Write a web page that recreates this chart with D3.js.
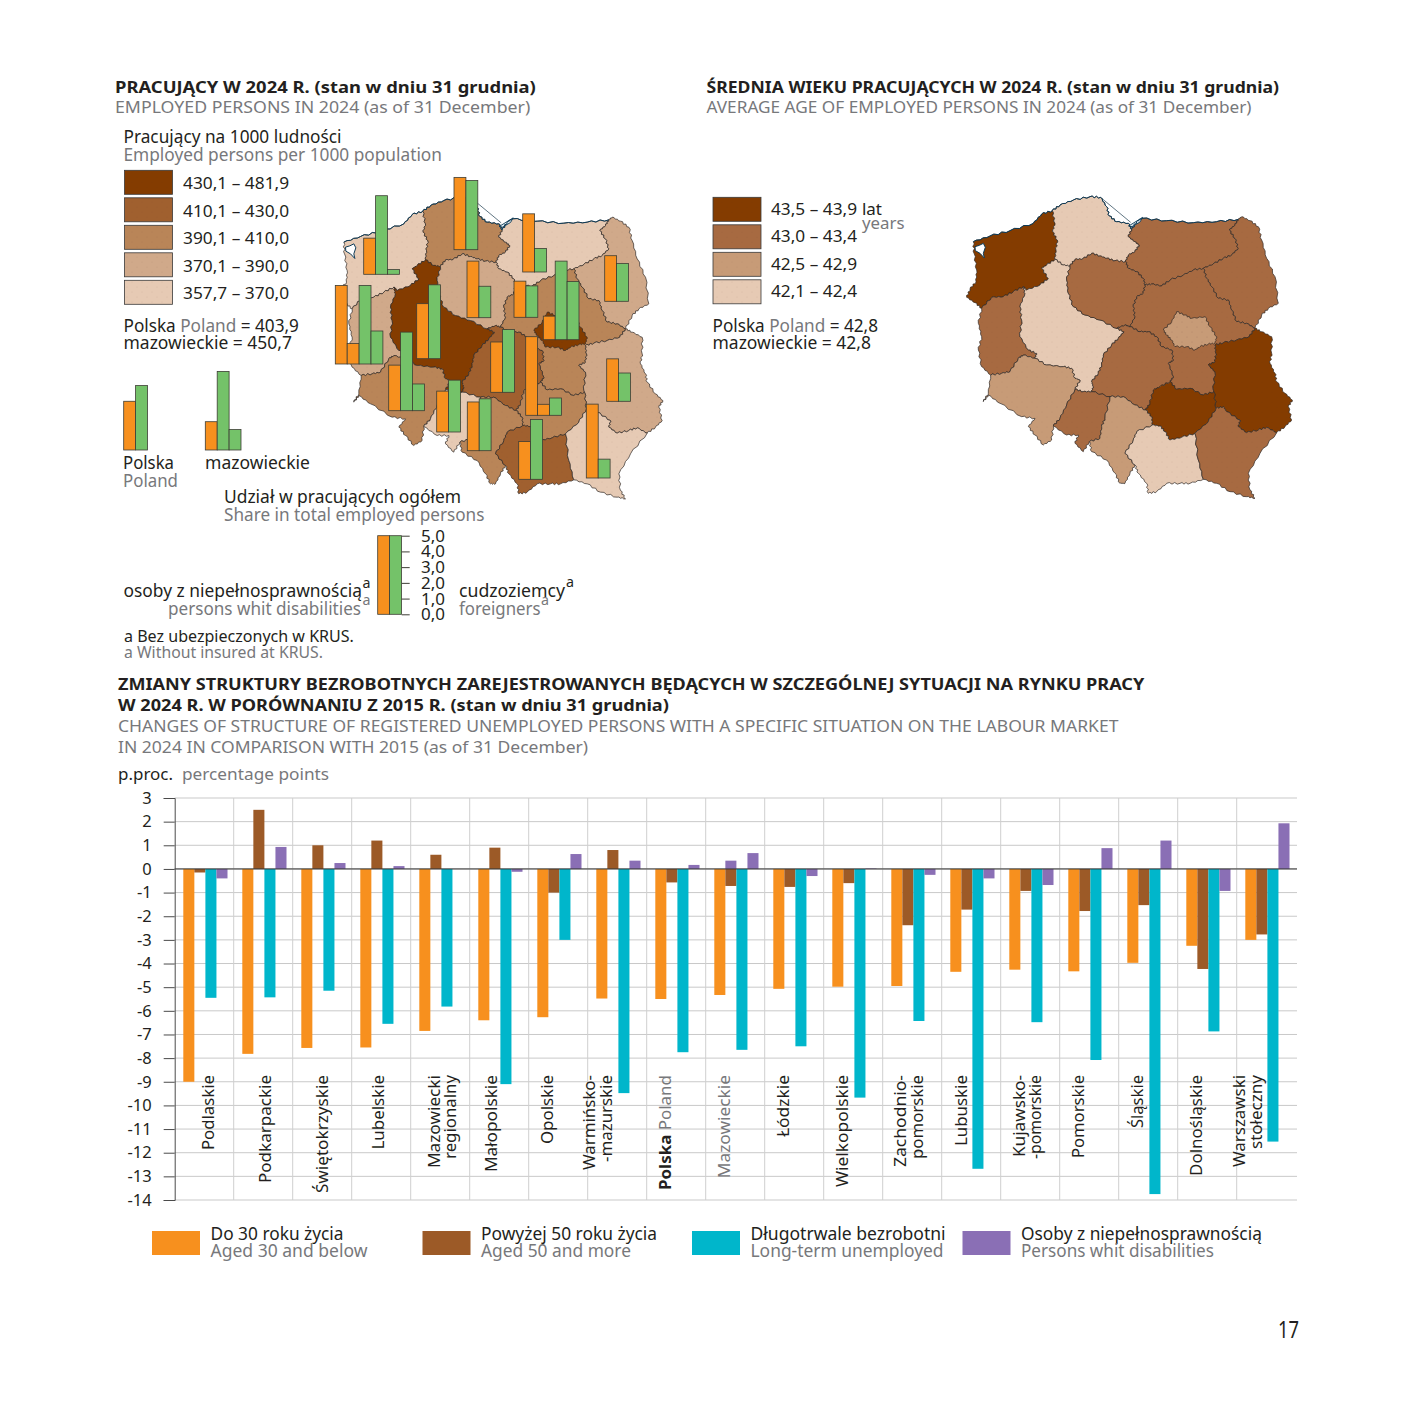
<!DOCTYPE html>
<html><head><meta charset="utf-8">
<script src="https://cdn.jsdelivr.net/npm/d3@7"></script>
<style>html,body{margin:0;background:#fff}svg{display:block}text{font-family:"Noto Sans",Lato,sans-serif}</style>
</head><body><svg id="c" width="1418" height="1418"></svg>
<script>
// ---------- DATA ----------
const categories=["Podlaskie","Podkarpackie","Świętokrzyskie","Lubelskie","Mazowiecki regionalny","Małopolskie","Opolskie","Warmińsko-mazurskie","Polska","Mazowieckie","Łódzkie","Wielkopolskie","Zachodniopomorskie","Lubuskie","Kujawsko-pomorskie","Pomorskie","Śląskie","Dolnośląskie","Warszawski stołeczny"];
const aged30=[-9.0,-7.82,-7.57,-7.55,-6.85,-6.4,-6.27,-5.48,-5.5,-5.33,-5.07,-4.98,-4.95,-4.35,-4.26,-4.33,-3.97,-3.25,-3.0];
const aged50=[-0.15,2.5,1.0,1.2,0.6,0.9,-1.0,0.8,-0.57,-0.72,-0.76,-0.6,-2.38,-1.72,-0.93,-1.78,-1.53,-4.23,-2.77];
const longTerm=[-5.45,-5.43,-5.15,-6.55,-5.82,-9.1,-3.0,-9.48,-7.75,-7.65,-7.5,-9.67,-6.43,-12.68,-6.48,-8.08,-13.75,-6.87,-11.53];
const disabled=[-0.4,0.93,0.25,0.12,0,-0.12,0.63,0.35,0.17,0.67,-0.3,0.02,-0.25,-0.4,-0.68,0.88,1.2,-0.93,1.93];
const yTicks=d3.range(-14,4);
const seriesNames=["Do 30 roku życia","Powyżej 50 roku życia","Długotrwale bezrobotni","Osoby z niepełnosprawnością"];
const seriesNamesEn=["Aged 30 and below","Aged 50 and more","Long-term unemployed","Persons whit disabilities"];
const seriesColors=["#f7901e","#9c5a27","#00b6cb","#8a6fb5"];
const catLabels=[["Podlaskie"],["Podkarpackie"],["Świętokrzyskie"],["Lubelskie"],["Mazowiecki","regionalny"],["Małopolskie"],["Opolskie"],["Warmińsko-","-mazurskie"],["Polska Poland"],["Mazowieckie"],["Łódzkie"],["Wielkopolskie"],["Zachodnio-","pomorskie"],["Lubuskie"],["Kujawsko-","-pomorskie"],["Pomorskie"],["Śląskie"],["Dolnośląskie"],["Warszawski","stołeczny"]];

const regions=["Zachodniopomorskie","Pomorskie","Warmińsko-mazurskie","Podlaskie","Lubuskie","Wielkopolskie","Kujawsko-pomorskie","Mazowiecki regionalny","Warszawski stołeczny","Łódzkie","Lubelskie","Świętokrzyskie","Dolnośląskie","Opolskie","Śląskie","Małopolskie","Podkarpackie"];
const employedClass=[4,2,4,3,3,0,3,2,0,1,3,2,2,4,2,1,4];
const ageClass=[0,3,1,1,1,3,1,1,2,1,0,0,2,1,2,3,1];
const shareDisabled=[2.3,4.6,3.7,2.9,6.3,3.5,3.6,2.3,1.5,3.2,2.7,5.7,2.9,2.6,3.1,2.4,4.7];
const shareForeign=[5.3,4.4,1.5,2.4,7.1,4.7,2.0,2.0,8.7,4.0,1.8,1.1,6.7,3.3,3.3,3.8,1.2];
const employedRanges=["430,1 – 481,9","410,1 – 430,0","390,1 – 410,0","370,1 – 390,0","357,7 – 370,0"];
const employedColors=["#843c00","#a0602f","#b98558","#d0a98a","#e6cab4"];
const ageRanges=["43,5 – 43,9","43,0 – 43,4","42,5 – 42,9","42,1 – 42,4"];
const ageColors=["#843c00","#a76a41","#c79b77","#e6cab4"];
const shareTicks=[0,1,2,3,4,5];
const refDisabled=[3.1,1.8], refForeign=[4.1,6.3];

// Map outline, in map units, as shared borders
const borders={
zCoast:"65,355 45,338 20,322 30,297 48,275 50,240 42,190 40,155 90,138 150,122 220,100 245,72 277,62",
pomCoast:"277,62 300,45 340,30 390,20 422,22 440,50 448,78 470,95 505,100 515,118",
zPom:"277,62 285,100 278,125 292,150 288,180 285,208",
pomKuj:"330,228 345,208 368,207 395,190 420,198 440,205 465,212 497,215",
pomWiel:"285,208 310,225 330,228",
pomWM:"515,118 505,140 525,155 538,165 525,185 505,195 497,215",
wmCoast:"515,118 530,95 545,85 620,92 700,98 770,95 835,88",
wmPodl:"835,88 825,105 808,120 825,145 835,175 815,195 790,205 760,222 730,235",
wmMaz:"730,235 700,240 670,255 630,270 605,288 575,282 555,285",
wmKuj:"497,215 505,235 530,245 550,265 555,285",
podlOuter:"835,88 845,80 870,92 895,110 905,150 920,205 945,260 955,340 925,355 905,375 885,415",
podlMaz:"730,235 740,265 755,290 775,325 805,330 815,360 830,395 860,400 885,415",
kujMaz:"555,285 550,310 530,320 520,350 525,380 510,410",
kujWiel:"330,228 320,270 325,310 340,350 375,375 420,390 470,415",
kujLodz:"510,410 495,405 470,415",
mazLodz:"510,410 540,425 565,425 590,440 605,470 635,480 640,510 625,520 640,560 630,575",
mazSwie:"630,575 650,598 690,595 730,615 762,605",
mazLub:"885,415 868,440 830,450 790,458 765,465 768,490 765,515 745,525 765,545 760,600 762,605",
lubSwie:"762,605 768,655",
lubOuter:"885,415 905,425 935,440 935,490 930,520 945,550 950,575 975,610 997,630 985,650 995,690 975,710 950,728",
lubPodk:"768,655 790,650 800,665 840,690 835,710 860,728 895,720 920,712 950,728",
podkOuter:"950,728 900,790 865,850 870,900 885,925 860,920 810,905 770,880 730,868",
swiePodk:"768,655 745,695 705,730",
swieMalo:"705,730 665,742 630,750 615,725 600,708 577,705",
maloPodk:"705,730 715,810 730,868",
swieLodz:"630,575 600,590 580,600 570,640 557,660",
swieSl:"557,660 575,680 577,705",
maloSl:"577,705 530,725 520,750 495,790 525,825",
maloOuter:"525,825 535,850 560,880 565,910 590,905 620,880 660,880 690,880 730,868",
slOuter:"525,825 510,850 495,880 480,880 465,850 440,810 395,785 388,755",
slOp:"388,755 420,745 425,710 435,685 450,620",
slLodz:"450,620 490,620 525,645 557,660",
opLodz:"395,605 450,620",
opWiel:"345,598 370,605 395,605",
opOuter:"388,755 370,785 345,760 355,735 320,735 280,708",
opDol:"280,708 300,685 320,645 345,598",
dolOuter:"280,708 275,750 250,765 225,735 205,710 225,685 185,680 120,640 85,615 70,635 85,610 92,555",
lubDol:"92,555 125,550 150,545 175,505 190,495 225,505",
dolWiel:"225,505 260,525 310,530 335,535 345,565 360,570 345,598",
lubWiel:"190,290 195,310 180,350 185,390 180,440 205,480 230,490 225,505",
lubOuterW:"65,355 55,400 65,440 55,480 65,530 92,555",
lubZach:"65,355 95,322 130,320 160,305 190,290",
zachWiel:"190,290 200,300 240,285 265,265 245,235 260,225 285,208",
wielLodz:"470,415 492,425 475,445 455,465 430,495 425,525 415,550 395,575 400,590 395,605",
warsaw:"610,420 635,395 650,365 675,375 695,385 735,380 750,410 770,440 765,460 745,462 720,470 705,480 680,470 645,470 635,450 620,435 610,420"
};
const regionRings=[
"zCoast zPom -zachWiel -lubZach",
"pomCoast pomWM -pomKuj -pomWiel -zPom",
"wmCoast wmPodl wmMaz -wmKuj -pomWM",
"podlOuter -podlMaz -wmPodl",
"-lubOuterW lubZach lubWiel -lubDol",
"pomWiel kujWiel wielLodz -opWiel -dolWiel -lubWiel zachWiel",
"pomKuj wmKuj kujMaz kujLodz -kujWiel",
"-wmMaz podlMaz mazLub -mazSwie -mazLodz -kujMaz",
"warsaw",
"-kujLodz mazLodz swieLodz -slLodz -opLodz -wielLodz",
"lubOuter -lubPodk -lubSwie -mazLub",
"mazSwie lubSwie swiePodk swieMalo -swieSl -swieLodz",
"lubDol dolWiel -opDol dolOuter",
"opWiel opLodz -slOp opOuter opDol",
"slLodz swieSl maloSl slOuter slOp",
"-swieMalo maloPodk -maloOuter -maloSl",
"-swiePodk lubPodk podkOuter -maloPodk"];
const lagoon=[[45,170],[58,166],[70,160],[76,172],[70,190],[73,204],[60,190],[46,182],[45,170]];
const helSpit=[[424,24],[512,97]];
const vistulaSpit=[[506,108],[548,82],[540,96],[516,110],[506,108]];
// where each region's bar group stands on the left map (px)
const barX=[363.7,454,522.7,604.7,335.3,416.7,467,514,543.3,490.7,606.7,525.7,388.7,436.7,467.3,518.7,586.3];
const barY=[274.3,249.7,272,301.3,364,358.7,317.7,317.3,339.7,392.3,401.3,415.3,410.7,432,450.7,479.3,478];

// ---------- HELPERS ----------
const svg=d3.select("#c");
const DARK="#231f20",GRAY="#77787b";
const defs=svg.append("defs");
const dotP=defs.append("pattern").attr("id","dots").attr("width",10).attr("height",10).attr("patternUnits","userSpaceOnUse");
[[2,2],[7,7]].forEach(c=>dotP.append("circle").attr("cx",c[0]).attr("cy",c[1]).attr("r",.55).attr("fill","#3a2a1a").attr("opacity",.1));
function T(spans,x,y,o={}){
  const s=typeof spans==="string"?[[spans,o.fill||DARK,o.weight||400]]:spans;
  const t=(o.g||svg).append("text").attr("font-size",(o.size||17)*.96).attr("text-anchor",o.anchor||"start");
  s.forEach(a=>t.append("tspan").text(a[0]).attr("fill",a[1]).attr("font-weight",a[2]||400).attr("xml:space","preserve"));
  const w=t.node().getComputedTextLength();
  const k=o.w?o.w/w:1;
  t.attr("transform",`translate(${x},${y}) ${o.rot?"rotate(-90) ":""}scale(${k},1)`);
  return t;
}
const NOTCHES=[.2,.4,.6,.8];
function arc(name){
  const rev=name[0]==="-";const key=rev?name.slice(1):name;
  const p=borders[key].split(" ").map(d=>d.split(",").map(Number));
  const out=[];
  p.forEach((a,i)=>{out.push(a);if(i<p.length-1){const b=p[i+1],dx=b[0]-a[0],dy=b[1]-a[1],L=Math.hypot(dx,dy);
    NOTCHES.forEach((t,j)=>{const s=(j%2?1:-1)*(i%3===1?1.4:2.4)*Math.min(1,L/25);out.push([a[0]+dx*t-dy/L*s,a[1]+dy*t+dx/L*s]);});}});
  return rev?out.reverse():out;
}
function ring(str){return str.split(" ").flatMap(arc);}
const features=regionRings.map((r,i)=>({type:"Feature",properties:{name:regions[i],i},geometry:{type:"Polygon",coordinates:[ring(r)]}}));
const ordered=[...features].sort((a,b)=>(a.properties.name==="Warszawski stołeczny")-(b.properties.name==="Warszawski stołeczny"));

function drawMap(dx,dy,classes,colors){
  const g=svg.append("g");
  const path=d3.geoPath(d3.geoIdentity().scale(1/3).translate([dx,dy]));
  g.selectAll("path.r").data(ordered).join("path").attr("class","r").attr("d",path)
    .attr("fill",d=>colors[classes[d.properties.i]]).attr("stroke","#2f2a26").attr("stroke-width",.7).attr("stroke-linejoin","round");
  g.selectAll("path.t").data(ordered).join("path").attr("class","t").attr("d",path).attr("fill","url(#dots)");
  const line=c=>({type:"LineString",coordinates:c});
  g.append("path").attr("d",path({type:"Polygon",coordinates:[lagoon]})).attr("fill","#fff").attr("stroke","#0d3b57").attr("stroke-width",1);
  g.append("path").attr("d",path(line(helSpit))).attr("fill","none").attr("stroke","#1d3b4d").attr("stroke-width",.7);
  g.append("path").attr("d",path({type:"Polygon",coordinates:[vistulaSpit]})).attr("fill","#dfeaf0").attr("stroke","#0d3b57").attr("stroke-width",.9);
  ["zCoast","pomCoast","wmCoast"].forEach(k=>g.append("path").attr("d",path(line(arc(k).slice(k==="zCoast"?7*(NOTCHES.length+1):0)))).attr("fill","none").attr("stroke","#0d3b57").attr("stroke-width",1));
}

// ---------- TITLES ----------
T("PRACUJĄCY W 2024 R. (stan w dniu 31 grudnia)",115,92.5,{weight:700,size:17,w:421});
T("EMPLOYED PERSONS IN 2024 (as of 31 December)",115,113,{fill:GRAY,size:17.5,w:415});
T("ŚREDNIA WIEKU PRACUJĄCYCH W 2024 R. (stan w dniu 31 grudnia)",706.5,92.5,{weight:700,size:17,w:572.5});
T("AVERAGE AGE OF EMPLOYED PERSONS IN 2024 (as of 31 December)",706.5,113,{fill:GRAY,size:17.5,w:544.5});
T("Pracujący na 1000 ludności",123.5,143,{size:18,w:218});
T("Employed persons per 1000 population",123.5,160.5,{fill:GRAY,size:18,w:318.5});

// ---------- MAPS ----------
drawMap(330.5,190.5,employedClass,employedColors);
drawMap(960,190,ageClass,ageColors);

// ---------- LEFT MAP LEGEND ----------
employedRanges.forEach((r,i)=>{
  svg.append("rect").attr("x",124.5).attr("y",170.3+27.5*i).attr("width",48).attr("height",24).attr("fill",employedColors[i]).attr("stroke","#3a3a3a").attr("stroke-width",.8);
  svg.append("rect").attr("x",124.5).attr("y",170.3+27.5*i).attr("width",48).attr("height",24).attr("fill","url(#dots)");
  T(r,183,189+27.5*i,{size:17.5,w:106});
});
T([["Polska ",DARK],["Poland ",GRAY],["= 403,9",DARK]],123.5,331.5,{size:18,w:175.5});
T("mazowieckie = 450,7",123.5,348.5,{size:18,w:168.5});

ageRanges.forEach((r,i)=>{
  svg.append("rect").attr("x",713).attr("y",197.3+27.5*i).attr("width",48).attr("height",24).attr("fill",ageColors[i]).attr("stroke","#3a3a3a").attr("stroke-width",.8);
  svg.append("rect").attr("x",713).attr("y",197.3+27.5*i).attr("width",48).attr("height",24).attr("fill","url(#dots)");
  T(r,771,214.5+27.5*i,{size:17.5,w:86});
});
T("lat",862,214.5,{size:17.5,w:20});
T("years",862,229,{fill:GRAY,size:17.5,w:42.5});
T([["Polska ",DARK],["Poland ",GRAY],["= 42,8",DARK]],712.5,331.5,{size:18,w:165.5});
T("mazowieckie = 42,8",712.5,348.5,{size:18,w:158.5});

// ---------- SHARE BARS ----------
const CAP=5;
const shareH=d3.scaleLinear().domain([0,CAP]).range([0,78.6]);
const slot=d3.scaleBand().domain(d3.range(4)).range([0,47.6]);
function shareBars(x,y,d,f){
  const parts=[[Math.min(d,CAP),"#f7901e"]];
  if(d>CAP)parts.push([d-CAP,"#f7901e"]);
  parts.push([Math.min(f,CAP),"#74c269"]);
  if(f>CAP)parts.push([f-CAP,"#74c269"]);
  svg.append("g").selectAll("rect").data(parts).join("rect")
    .attr("x",(p,i)=>x+slot(i)).attr("width",slot.bandwidth())
    .attr("y",p=>y-shareH(p[0])).attr("height",p=>shareH(p[0]))
    .attr("fill",p=>p[1]).attr("stroke","#3d3d35").attr("stroke-width",.8);
}
regions.forEach((r,i)=>shareBars(barX[i],barY[i],shareDisabled[i],shareForeign[i]));
shareBars(123.7,450,refDisabled[0],refForeign[0]);
shareBars(205.3,450,refDisabled[1],refForeign[1]);
T("Polska",123,468.5,{size:18,w:51});
T("Poland",123,486.5,{fill:GRAY,size:18,w:55});
T("mazowieckie",205,468.5,{size:18,w:105});
T("Udział w pracujących ogółem",224,502.5,{size:18,w:237});
T("Share in total employed persons",224,520.5,{fill:GRAY,size:18,w:260.5});
// scale key
shareBars(377.7,614.3,CAP,CAP);
const keyAxis=d3.axisRight(d3.scaleLinear().domain([0,CAP]).range([614.3,535.7])).tickValues(shareTicks).tickSize(8).tickFormat(()=>"");
svg.append("g").attr("transform","translate(401.7,0)").call(keyAxis).call(g=>{g.select(".domain").remove();g.selectAll("line").attr("stroke","#3d3d35");});
shareTicks.forEach(v=>T(d3.format(".1f")(v).replace(".",","),421,614.3+5.5-shareH(v)+.5,{size:17.5,w:24}));
T("osoby z niepełnosprawnością",123.5,596.5,{size:18,w:238.5});
T("a",362.5,588,{size:15,w:8});
T("persons whit disabilities",168,614.5,{fill:GRAY,size:18,w:193});
T("a",362.5,605,{fill:GRAY,size:15,w:8});
T("cudzoziemcy",459,596.5,{size:18,w:106});
T("a",566,587,{size:15,w:8});
T("foreigners",459,614.5,{fill:GRAY,size:18,w:81.5});
T("a",541,605,{fill:GRAY,size:15,w:8});
T("a Bez ubezpieczonych w KRUS.",124,642,{size:16.5,w:230});
T("a Without insured at KRUS.",124,658,{fill:GRAY,size:16.5,w:199});

// ---------- BOTTOM CHART ----------
T("ZMIANY STRUKTURY BEZROBOTNYCH ZAREJESTROWANYCH BĘDĄCYCH W SZCZEGÓLNEJ SYTUACJI NA RYNKU PRACY",118,689.5,{weight:700,size:17,w:1027});
T("W 2024 R. W PORÓWNANIU Z 2015 R. (stan w dniu 31 grudnia)",118,710.5,{weight:700,size:17,w:551});
T("CHANGES OF STRUCTURE OF REGISTERED UNEMPLOYED PERSONS WITH A SPECIFIC SITUATION ON THE LABOUR MARKET",118,732,{fill:GRAY,size:17.5,w:1000});
T("IN 2024 IN COMPARISON WITH 2015 (as of 31 December)",118,752.5,{fill:GRAY,size:17.5,w:470});
T("p.proc.",118,779.5,{size:17.5,w:55});
T("percentage points",182,779.5,{fill:GRAY,size:17.5,w:147});

const x0=d3.scaleBand().domain(categories).range([174.7,1295.7]);
const x1=d3.scaleBand().domain(d3.range(4)).range([8.6,52.8]);
const y=d3.scaleLinear().domain([-14,3]).range([1200,798]);
const chart=svg.append("g");
chart.append("g").selectAll("line").data(yTicks).join("line").attr("x1",174.7).attr("x2",1297).attr("y1",d=>y(d)).attr("y2",d=>y(d)).attr("stroke","#c9c9c9").attr("stroke-width",1);
chart.append("g").selectAll("line").data(categories.slice(1)).join("line").attr("x1",d=>x0(d)).attr("x2",d=>x0(d)).attr("y1",y(3)).attr("y2",y(-14)).attr("stroke","#cfcfcf").attr("stroke-width",1);
[aged30,aged50,longTerm,disabled].forEach((vals,s)=>{
  chart.append("g").selectAll("rect").data(vals).join("rect")
   .attr("x",(v,i)=>x0(categories[i])+x1(s)).attr("width",x1.bandwidth())
   .attr("y",v=>y(Math.max(v,0))).attr("height",v=>Math.abs(y(v)-y(0))).attr("fill",seriesColors[s]);
});
// Mazowieckie carries a second, small purple bar in the brown slot
const mazExtra=[0.35];
chart.append("g").selectAll("rect").data(mazExtra).join("rect")
  .attr("x",x0("Mazowieckie")+x1(1)).attr("width",x1.bandwidth()).attr("y",v=>y(v)).attr("height",v=>y(0)-y(v)).attr("fill",seriesColors[3]);
// labels
const labelX=[[214],[270.7],[328],[384],[440,456],[496.5],[553],[595,612],[671],[729.6],[788.7],[848],[906,922.5],[966.5],[1025,1041],[1084],[1143],[1202],[1245,1262]];
const labelW=[[75],[108],[118],[74.5],[93,84],[97],[69],[95,87],[115],[103],[62],[112],[92,84],[71],[82,84],[83],[53],[101],[92,74]];
catLabels.forEach((ls,i)=>ls.forEach((l,j)=>{
  const sp=categories[i]==="Polska"?[["Polska",DARK,700],[" Poland",GRAY]]:[[l,categories[i]==="Mazowieckie"?GRAY:DARK]];
  T(sp,labelX[i][j],1075,{size:17.5,w:labelW[i][j],rot:true,anchor:"end",g:chart});
}));
chart.append("line").attr("x1",174.7).attr("x2",1297).attr("y1",y(0)).attr("y2",y(0)).attr("stroke","#333").attr("stroke-width",1);
const axis=d3.axisLeft(y).tickValues(yTicks).tickSize(11).tickPadding(12).tickFormat(d=>String(d));
chart.append("g").attr("transform","translate(174.7,0)").call(axis).call(g=>{
  g.select(".domain").attr("stroke","#4a4a4a");g.selectAll("line").attr("stroke","#4a4a4a");
  g.selectAll("text").attr("font-size",16.5).attr("fill",DARK).attr("font-family","'Noto Sans',Lato,sans-serif");
});
// legend
const legX=[152,422.5,692,962.5];
const legW=[133,176,195,241], legWEn=[157,150,193,193];
seriesNames.forEach((n,i)=>{
  svg.append("rect").attr("x",legX[i]).attr("y",1231).attr("width",48).attr("height",24).attr("fill",seriesColors[i]);
  T(n,legX[i]+58.5,1239.5,{size:18,w:legW[i]});
  T(seriesNamesEn[i],legX[i]+58.5,1257,{fill:GRAY,size:18,w:legWEn[i]});
});
T("17",1278,1338,{size:25,w:21});
</script></body></html>
